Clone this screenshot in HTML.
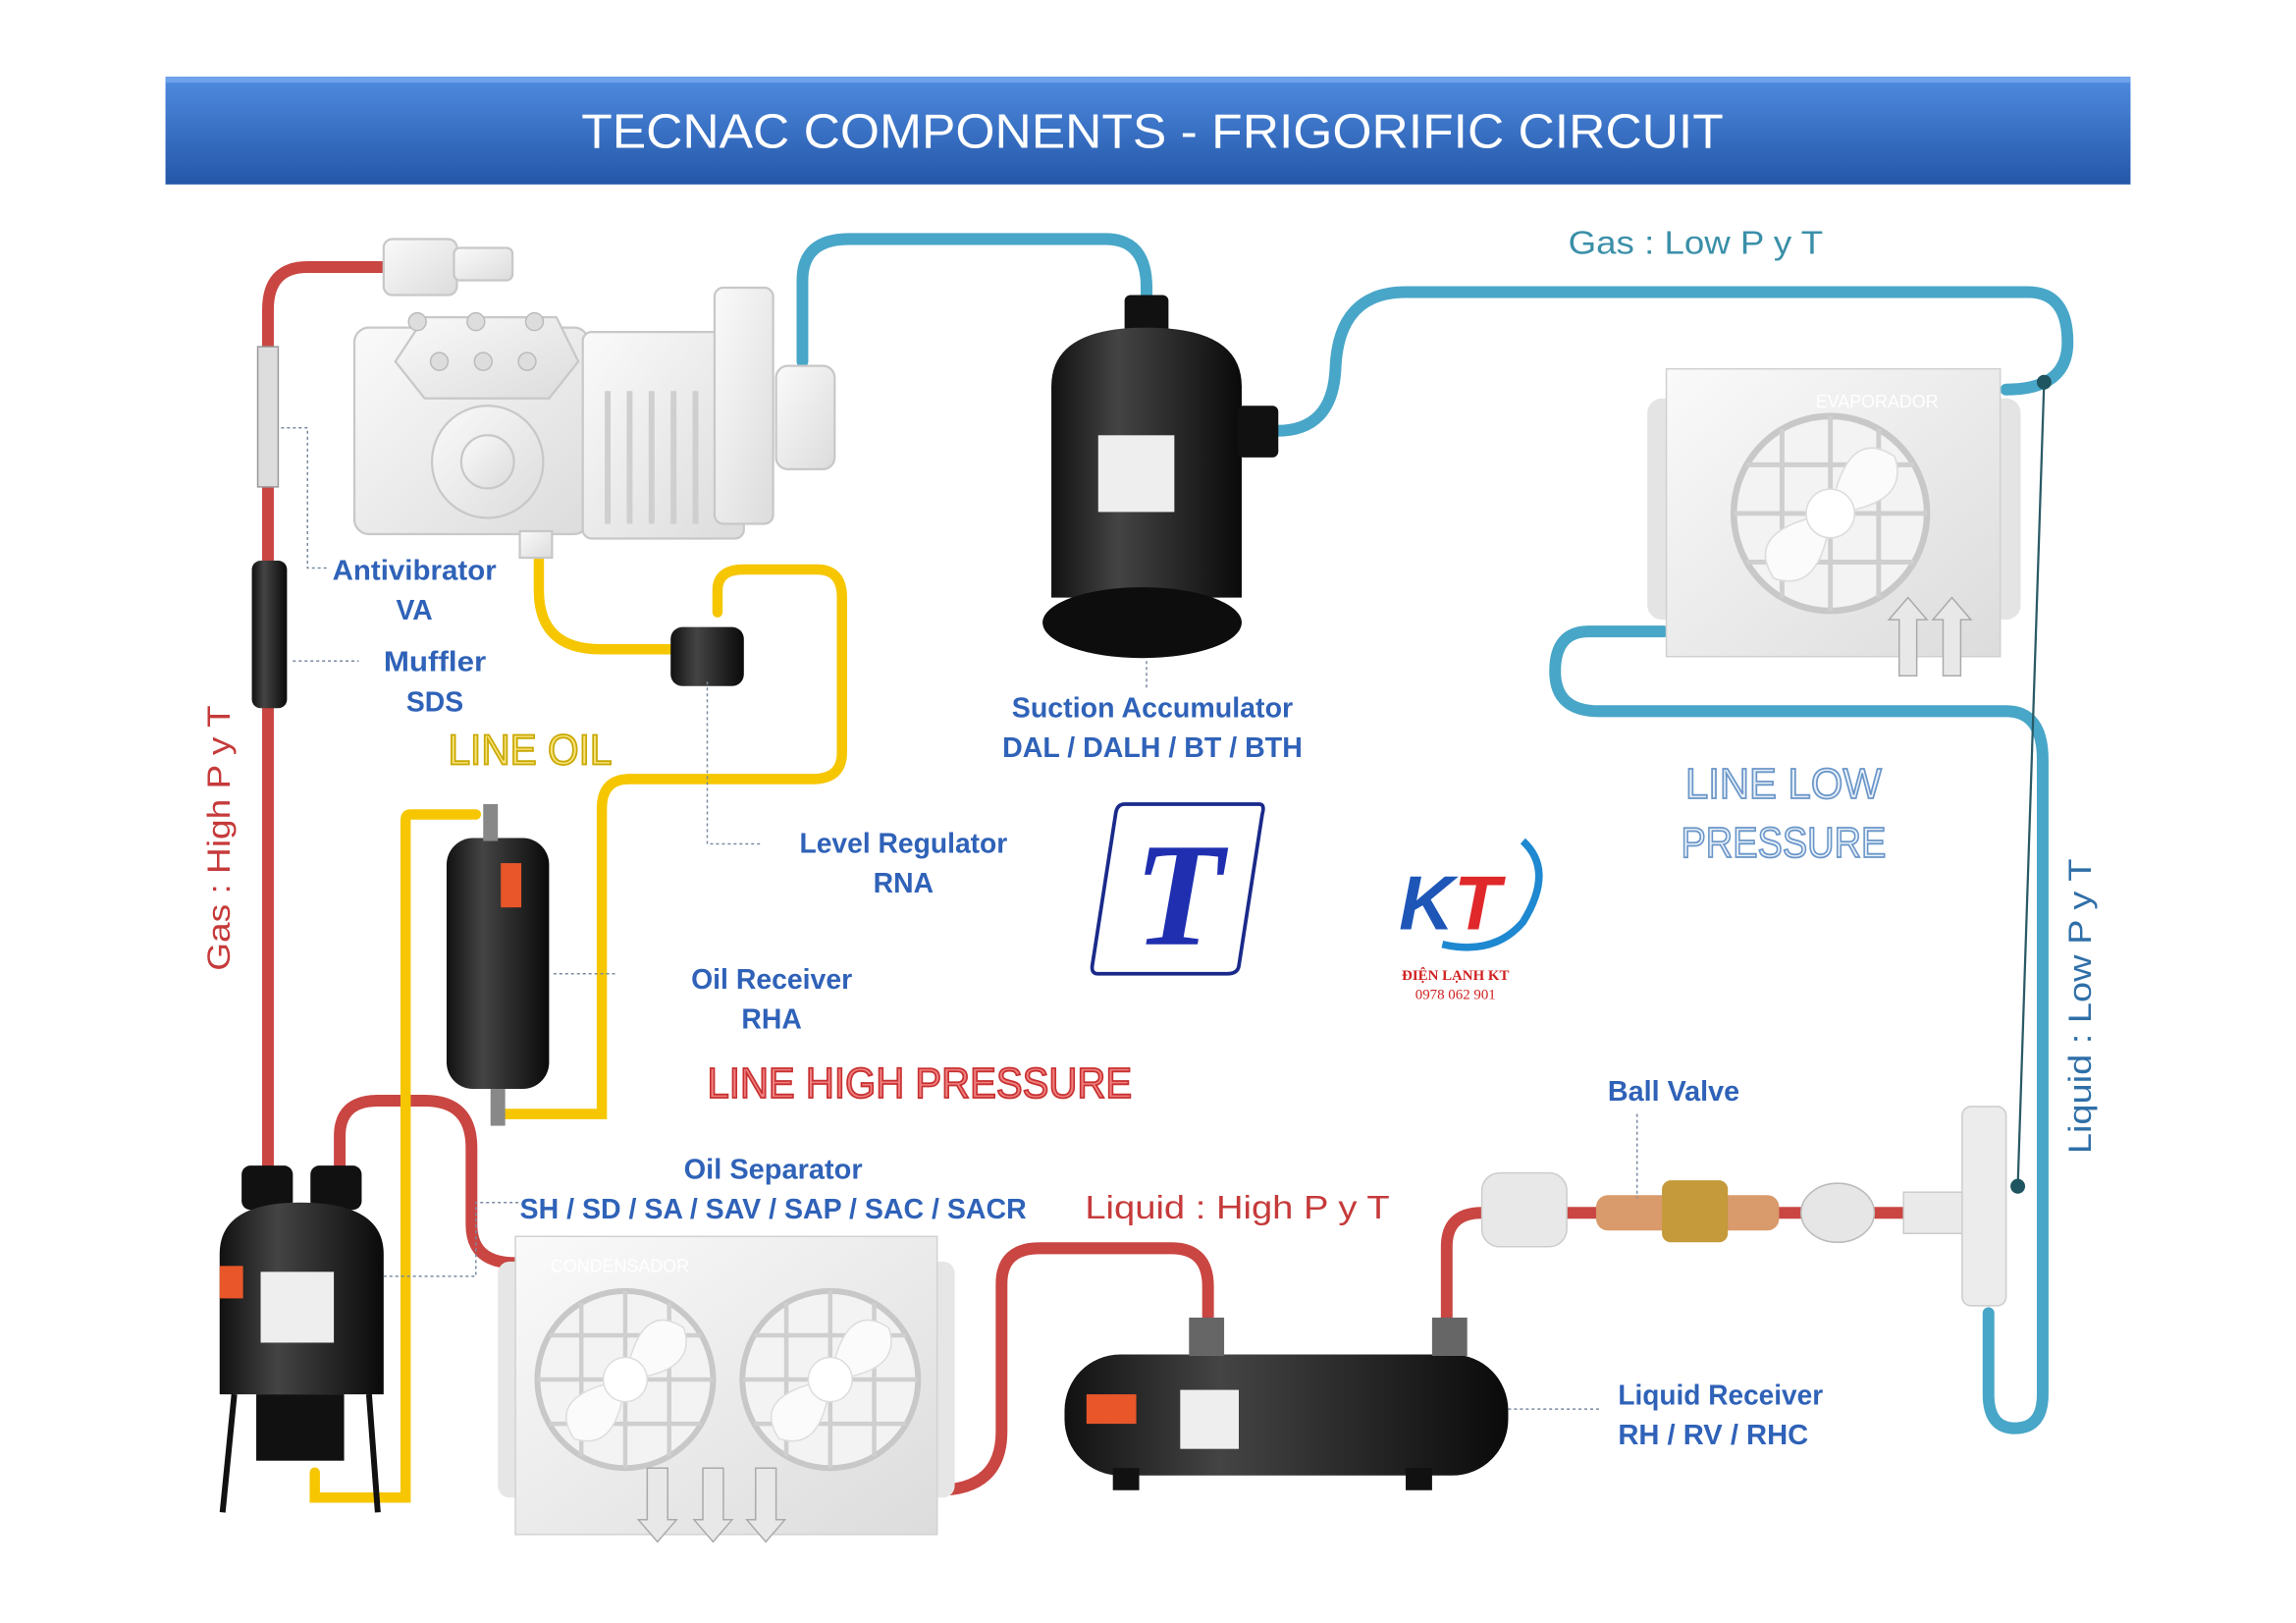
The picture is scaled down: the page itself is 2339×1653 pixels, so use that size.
<!DOCTYPE html>
<html><head><meta charset="utf-8"><style>
html,body{margin:0;padding:0;background:#fff;}
svg{display:block;}
.lb{font-family:"Liberation Sans",sans-serif;font-weight:bold;font-size:19px;fill:#2f62b8;text-anchor:middle;}
.big{font-family:"Liberation Sans",sans-serif;font-size:29px;text-anchor:middle;stroke-width:1.2px}
.pl{font-family:"Liberation Sans",sans-serif;font-size:22px;text-anchor:middle}
</style></head><body>
<svg width="2339" height="1653" viewBox="0 0 1568 1100" preserveAspectRatio="none" xmlns="http://www.w3.org/2000/svg">
<defs>
<linearGradient id="hg" x1="0" y1="0" x2="0" y2="1"><stop offset="0" stop-color="#4f8be0"/><stop offset="1" stop-color="#2457a8"/></linearGradient>
<linearGradient id="cg" x1="0" y1="0" x2="1" y2="1"><stop offset="0" stop-color="#fafafa"/><stop offset="1" stop-color="#dcdcdc"/></linearGradient>
<linearGradient id="bk" x1="0" y1="0" x2="1" y2="0"><stop offset="0" stop-color="#111"/><stop offset=".35" stop-color="#444"/><stop offset="1" stop-color="#0a0a0a"/></linearGradient>
<g id="fan">
<circle r="60" fill="#f3f3f3" stroke="#c8c8c8" stroke-width="4"/>
<g stroke="#cfcfcf" stroke-width="3"><line x1="-30" y1="-52" x2="-30" y2="52"/><line x1="0" y1="-60" x2="0" y2="60"/><line x1="30" y1="-52" x2="30" y2="52"/><line x1="-52" y1="-30" x2="52" y2="-30"/><line x1="-60" y1="0" x2="60" y2="0"/><line x1="-52" y1="30" x2="52" y2="30"/></g>
<path d="M0 0 Q10 -55 40 -35 Q50 -5 0 0 Z M0 0 Q-55 10 -35 40 Q-5 50 0 0Z" fill="#fbfbfb" stroke="#ddd"/>
<circle r="15" fill="#fff" stroke="#ddd"/>
</g>
</defs>
<rect x="113" y="52" width="1342" height="73" fill="url(#hg)"/>
<rect x="113" y="52" width="1342" height="4" fill="#6ea2ea"/>
<text x="787" y="100" font-family="Liberation Sans,sans-serif" font-size="33" fill="#fff" text-anchor="middle" textLength="780" lengthAdjust="spacingAndGlyphs">TECNAC COMPONENTS - FRIGORIFIC CIRCUIT</text>

<g fill="none" stroke="#c94642" stroke-width="8" stroke-linecap="round">
<path d="M268 181 H210 Q183 181 183 210 V792"/>
<path d="M232 792 V770 Q232 746 258 746 H290 Q322 746 322 778 V830 Q322 856 352 856"/>
<path d="M640 1010 Q684 1010 684 970 V870 Q684 846 710 846 H800 Q825 846 825 872 V892"/>
<path d="M988 896 V845 Q988 822 1012 822"/>
<path d="M1070 822 H1090 M1215 822 H1235 M1280 822 H1300"/>
</g>
<g fill="none" stroke="#48a6c8" stroke-width="8" stroke-linecap="round">
<path d="M548 245 V190 Q548 162 580 162 H755 Q783 162 783 195 V205"/>
<path d="M872 292 Q910 292 912 250 Q914 198 960 198 H1385 Q1412 198 1412 232 Q1412 264 1370 264"/>
<path d="M1136 428 H1085 Q1062 428 1062 455 Q1062 482 1092 482 H1370 Q1395 482 1395 515 V945 Q1395 968 1376 968 Q1358 968 1358 945 V890"/>
</g>
<line x1="1396" y1="258" x2="1378" y2="804" stroke="#2a5a66" stroke-width="1.5"/>
<circle cx="1396" cy="259" r="5" fill="#1f5560"/><circle cx="1378" cy="804" r="5" fill="#1f5560"/>
<g fill="none" stroke="#f6c600" stroke-width="7" stroke-linecap="round">
<path d="M368 374 V400 Q368 440 410 440 H458"/>
<path d="M490 415 V400 Q490 386 508 386 H558 Q575 386 575 405 V510 Q575 528 555 528 H430 Q411 528 411 548 V755 H345"/>
<path d="M325 552 H280 Q277 552 277 556 V1015 H215 V998"/>
</g>

<g stroke="#c8c8c8" stroke-width="1.5" fill="url(#cg)">
<rect x="262" y="162" width="50" height="38" rx="6"/>
<rect x="310" y="168" width="40" height="22" rx="4"/>
<rect x="242" y="222" width="160" height="140" rx="10"/>
<path d="M270 245 L290 215 H380 L395 245 L375 270 H290 Z"/>
<rect x="398" y="225" width="110" height="140" rx="6"/>
<rect x="488" y="195" width="40" height="160" rx="6"/>
<rect x="530" y="248" width="40" height="70" rx="8"/>
<circle cx="333" cy="313" r="38"/><circle cx="333" cy="313" r="18"/>
<rect x="355" y="360" width="22" height="18"/>
</g>
<g fill="#ddd" stroke="#bbb"><circle cx="285" cy="218" r="6"/><circle cx="325" cy="218" r="6"/><circle cx="365" cy="218" r="6"/><circle cx="300" cy="245" r="6"/><circle cx="330" cy="245" r="6"/><circle cx="360" cy="245" r="6"/></g>
<g stroke="#cfcfcf" stroke-width="4"><line x1="415" y1="265" x2="415" y2="355"/><line x1="430" y1="265" x2="430" y2="355"/><line x1="445" y1="265" x2="445" y2="355"/><line x1="460" y1="265" x2="460" y2="355"/><line x1="475" y1="265" x2="475" y2="355"/></g>

<rect x="176" y="235" width="14" height="95" fill="#ddd" stroke="#999"/>
<rect x="172" y="380" width="24" height="100" rx="6" fill="url(#bk)"/>
<rect x="458" y="425" width="50" height="40" rx="8" fill="url(#bk)"/>
<rect x="768" y="200" width="30" height="30" rx="4" fill="#111"/>
<path d="M718 262 Q718 222 783 222 Q848 222 848 262 V405 H718 Z" fill="url(#bk)"/>
<ellipse cx="780" cy="422" rx="68" ry="24" fill="#0d0d0d"/>
<rect x="845" y="275" width="28" height="35" rx="4" fill="#111"/>
<rect x="750" y="295" width="52" height="52" fill="#eee"/>

<rect x="1125" y="270" width="25" height="150" rx="10" fill="#e4e4e4"/>
<rect x="1355" y="270" width="25" height="150" rx="10" fill="#e4e4e4"/>
<rect x="1138" y="250" width="228" height="195" fill="url(#cg)" stroke="#d0d0d0"/>
<text x="1240" y="276" font-family="Liberation Sans,sans-serif" font-size="12" fill="#fff">EVAPORADOR</text>
<use href="#fan" transform="translate(1250,348) scale(1.1)"/>
<path d="M1297 458 V420 h-7 l13 -15 l13 15 h-7 V458Z M1327 458 V420 h-7 l13 -15 l13 15 h-7 V458Z" fill="#e8e8e8" stroke="#aaa"/>

<rect x="305" y="568" width="70" height="170" rx="18" fill="url(#bk)"/>
<rect x="342" y="585" width="14" height="30" fill="#e8562a"/>
<rect x="330" y="545" width="10" height="25" fill="#888"/>
<rect x="335" y="738" width="10" height="25" fill="#888"/>

<rect x="165" y="790" width="35" height="30" rx="6" fill="#111"/><rect x="212" y="790" width="35" height="30" rx="6" fill="#111"/>
<path d="M150 850 Q150 815 205 815 Q262 815 262 850 V945 H150Z" fill="url(#bk)"/>
<rect x="175" y="945" width="60" height="45" fill="#111"/>
<rect x="150" y="858" width="16" height="22" fill="#e8562a"/>
<rect x="178" y="862" width="50" height="48" fill="#eee"/>
<path d="M160 945 L152 1025 M252 945 L258 1025" stroke="#111" stroke-width="4" fill="none"/>

<rect x="340" y="855" width="20" height="160" rx="8" fill="#e6e6e6"/>
<rect x="632" y="855" width="20" height="160" rx="8" fill="#e6e6e6"/>
<rect x="352" y="838" width="288" height="202" fill="url(#cg)" stroke="#d2d2d2"/>
<text x="376" y="862" font-family="Liberation Sans,sans-serif" font-size="12" fill="#fff">CONDENSADOR</text>
<use href="#fan" transform="translate(427,935)"/>
<use href="#fan" transform="translate(567,935)"/>
<path d="M442 995 h14 v35 h6 l-13 15 l-13 -15 h6z M480 995 h14 v35 h6 l-13 15 l-13 -15 h6z M516 995 h14 v35 h6 l-13 15 l-13 -15 h6z" fill="#e8e8e8" stroke="#aaa"/>

<rect x="727" y="918" width="303" height="82" rx="38" fill="url(#bk)"/>
<rect x="742" y="945" width="34" height="20" fill="#e8562a"/>
<rect x="806" y="942" width="40" height="40" fill="#eee"/>
<rect x="812" y="893" width="24" height="26" fill="#666"/><rect x="978" y="893" width="24" height="26" fill="#666"/>
<rect x="760" y="995" width="18" height="15" fill="#111"/><rect x="960" y="995" width="18" height="15" fill="#111"/>

<rect x="1012" y="795" width="58" height="50" rx="12" fill="#e8e8e8" stroke="#ccc"/>
<rect x="1090" y="810" width="125" height="24" rx="8" fill="#d99a6c"/>
<rect x="1135" y="800" width="45" height="42" rx="6" fill="#c49a3a"/>
<ellipse cx="1255" cy="822" rx="25" ry="20" fill="#e6e6e6" stroke="#bbb"/>
<rect x="1300" y="808" width="60" height="28" fill="#eaeaea" stroke="#ccc"/>
<rect x="1340" y="750" width="30" height="135" rx="6" fill="#ececec" stroke="#ccc"/>

<g stroke="#7a8aa0" stroke-width="1" stroke-dasharray="2,2" fill="none">
<path d="M192 290 H210 V385 H225"/><path d="M200 448 H245"/><path d="M483 462 V572 H520"/>
<path d="M378 660 H420"/><path d="M783 448 V468"/><path d="M262 865 H325 V815 H355"/>
<path d="M1030 955 H1092"/><path d="M1118 755 V812"/>
</g>

<g class="lb">
<text x="283" y="393" textLength="112" lengthAdjust="spacingAndGlyphs">Antivibrator</text><text x="283" y="420">VA</text>
<text x="297" y="455" textLength="70" lengthAdjust="spacingAndGlyphs">Muffler</text><text x="297" y="482">SDS</text>
<text x="787" y="486" textLength="192" lengthAdjust="spacingAndGlyphs">Suction Accumulator</text><text x="787" y="513" textLength="205" lengthAdjust="spacingAndGlyphs">DAL / DALH / BT / BTH</text>
<text x="617" y="578" textLength="142" lengthAdjust="spacingAndGlyphs">Level Regulator</text><text x="617" y="605">RNA</text>
<text x="527" y="670" textLength="110" lengthAdjust="spacingAndGlyphs">Oil Receiver</text><text x="527" y="697">RHA</text>
<text x="528" y="799" textLength="122" lengthAdjust="spacingAndGlyphs">Oil Separator</text><text x="528" y="826" textLength="346" lengthAdjust="spacingAndGlyphs">SH / SD / SA / SAV / SAP / SAC / SACR</text>
<text x="1143" y="746" textLength="90" lengthAdjust="spacingAndGlyphs">Ball Valve</text>
<text x="1175" y="952" textLength="140" lengthAdjust="spacingAndGlyphs">Liquid Receiver</text><text x="1170" y="979" textLength="130" lengthAdjust="spacingAndGlyphs">RH / RV / RHC</text>
</g>
<text class="big" x="362" y="518" fill="#f6e27a" stroke="#c9a800" textLength="112" lengthAdjust="spacingAndGlyphs">LINE OIL</text>
<text class="big" x="628" y="744" fill="#f08080" stroke="#c83030" textLength="290" lengthAdjust="spacingAndGlyphs">LINE HIGH PRESSURE</text>
<text class="big" x="1218" y="541" fill="#e8f1fa" stroke="#6b96c8" textLength="134" lengthAdjust="spacingAndGlyphs">LINE LOW</text>
<text class="big" x="1218" y="581" fill="#e8f1fa" stroke="#6b96c8" textLength="140" lengthAdjust="spacingAndGlyphs">PRESSURE</text>
<text class="pl" x="845" y="826" fill="#c63a3a" textLength="208" lengthAdjust="spacingAndGlyphs">Liquid : High P y T</text>
<text class="pl" x="1158" y="172" fill="#3a8fa8" textLength="174" lengthAdjust="spacingAndGlyphs">Gas : Low P y T</text>
<text class="pl" transform="translate(157,568) rotate(-90)" fill="#c63a3a" textLength="180" lengthAdjust="spacingAndGlyphs">Gas : High P y T</text>
<text class="pl" transform="translate(1428,682) rotate(-90)" fill="#2f6fa8" textLength="200" lengthAdjust="spacingAndGlyphs">Liquid : Low P y T</text>

<path d="M768 545 H860 Q864 545 862 552 L846 655 Q845 660 838 660 H750 Q745 660 746 654 L762 551 Q763 545 768 545Z" fill="#fff" stroke="#1a2a8a" stroke-width="2.5"/>
<text x="805" y="640" font-family="Liberation Serif,serif" font-style="italic" font-weight="bold" font-size="100" fill="#1f2fb0" text-anchor="middle">T</text>
<text x="990" y="630" font-family="Liberation Sans,sans-serif" font-style="italic" font-weight="bold" font-size="52" fill="#1e56b8" text-anchor="middle">K<tspan fill="#e0282a">T</tspan></text>
<path d="M1040 570 Q1062 590 1040 625 Q1020 648 985 640" fill="none" stroke="#1e88d0" stroke-width="5"/>
<text x="994" y="664" font-family="Liberation Serif,serif" font-weight="bold" font-size="10" fill="#d02020" text-anchor="middle">ĐIỆN LẠNH KT</text>
<text x="994" y="677" font-family="Liberation Serif,serif" font-size="10" fill="#d02020" text-anchor="middle">0978 062 901</text>
</svg>
</body></html>
